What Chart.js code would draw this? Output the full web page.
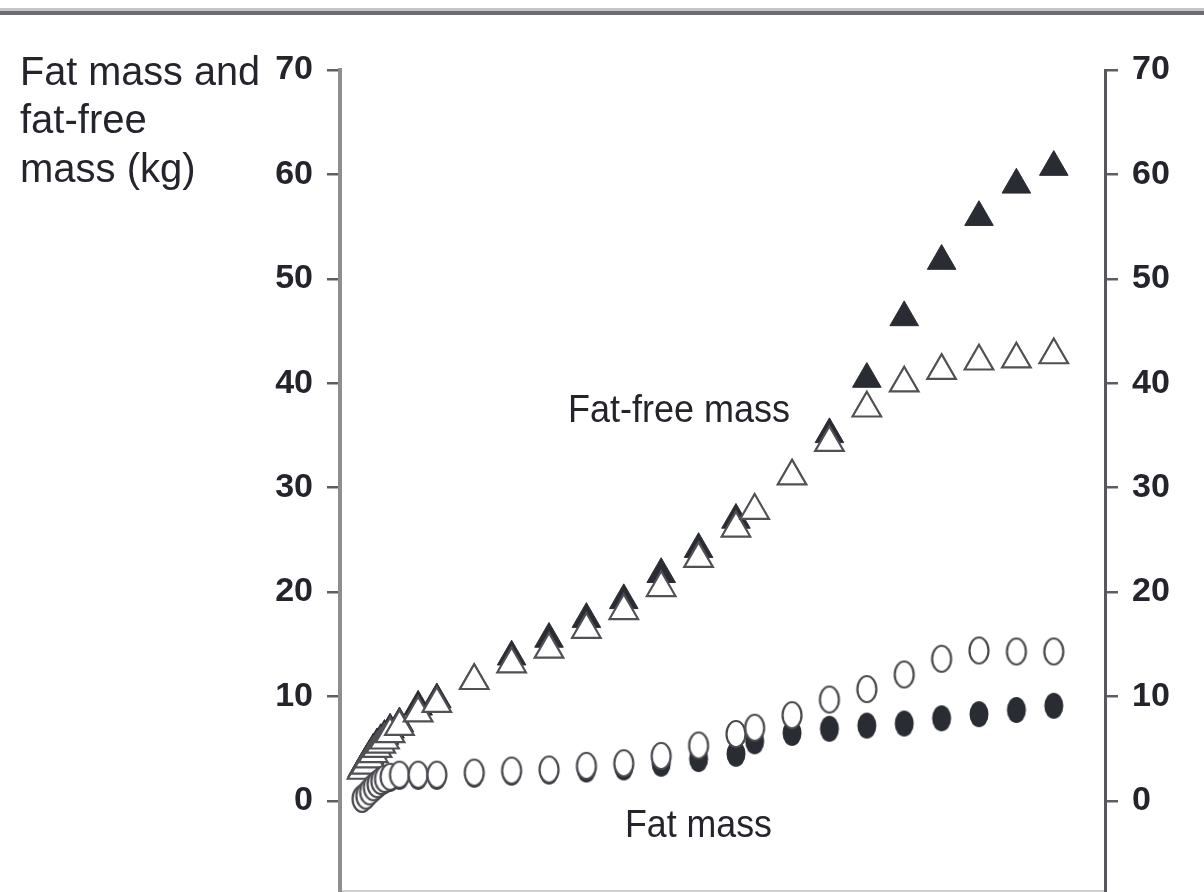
<!DOCTYPE html>
<html>
<head>
<meta charset="utf-8">
<script src="https://cdn.jsdelivr.net/npm/chart.js@4.4.0/dist/chart.umd.min.js"></script>
<style>
  html, body { margin: 0; padding: 0; background: #fff; overflow: hidden; }
  canvas { display: block; }
</style>
</head>
<body>
<canvas id="mycanvas" width="1204" height="910"></canvas>
<script>
// ages (years) of the measurement points
var ages = [0, 0.1, 0.2, 0.3, 0.4, 0.5, 0.6, 0.75, 1, 1.5, 2, 3, 4, 5, 6, 7, 8, 9, 10, 10.5, 11.5, 12.5, 13.5, 14.5, 15.5, 16.5, 17.5, 18.5];

// fat-free mass (kg)
var ffmBoys  = [3.1, 3.7, 4.3, 4.9, 5.4, 5.8, 6.2, 6.8, 7.4, 9.0, 9.7, 11.6, 13.8, 15.5, 17.4, 19.2, 21.7, 24.1, 26.9, 27.8, 31.1, 35.1, 40.4, 46.3, 51.7, 55.9, 59.0, 60.7];
var ffmGirls = [2.9, 3.4, 4.0, 4.5, 5.0, 5.4, 5.8, 6.4, 7.1, 8.4, 9.3, 11.5, 13.1, 14.5, 16.4, 18.2, 20.4, 23.2, 26.1, 27.8, 31.1, 34.3, 37.6, 40.0, 41.2, 42.1, 42.3, 42.7];

// fat mass (kg)
var fmBoys  = [0.1, 0.4, 0.8, 1.1, 1.4, 1.7, 1.9, 2.1, 2.3, 2.3, 2.3, 2.5, 2.7, 2.8, 3.0, 3.2, 3.55, 4.0, 4.5, 5.7, 6.5, 6.9, 7.2, 7.4, 7.9, 8.3, 8.7, 9.1];
var fmGirls = [0.2, 0.5, 0.9, 1.3, 1.6, 1.9, 2.1, 2.3, 2.5, 2.5, 2.5, 2.7, 2.9, 3.0, 3.35, 3.6, 4.3, 5.3, 6.4, 7.0, 8.2, 9.7, 10.7, 12.1, 13.6, 14.4, 14.3, 14.3];

var yTicks = [0, 10, 20, 30, 40, 50, 60, 70];
var axisTitle = ['Fat mass and', 'fat-free', 'mass (kg)'];

function pts(ys) {
    return ages.map(function (a, i) { return { x: a, y: ys[i] }; });
}

// ellipse markers
function ellipse(filled) {
    var c = document.createElement('canvas');
    c.width = 24; c.height = 32;
    var g = c.getContext('2d');
    g.beginPath();
    g.ellipse(12, 16, 9.5, 13, 0, 0, Math.PI * 2);
    if (filled) {
        g.fillStyle = '#2a2c33';
        g.fill();
    } else {
        g.fillStyle = '#fff';
        g.fill();
        g.lineWidth = 2.2;
        g.strokeStyle = '#4a4a50';
        g.stroke();
    }
    return c;
}
var openDot = ellipse(false);
var fullDot = ellipse(true);

var decor = {
    id: 'decor',
    beforeDraw: function (chart) {
        var ctx = chart.ctx;
        ctx.save();
        ctx.fillStyle = '#c6c6c6';
        ctx.fillRect(0, 8, 1204, 3);
        ctx.fillStyle = '#6c6c70';
        ctx.fillRect(0, 11, 1204, 4);
        ctx.restore();
    },
    afterDraw: function (chart) {
        var ctx = chart.ctx;
        ctx.save();
        ctx.fillStyle = '#24242c';
        ctx.textAlign = 'left';
        ctx.textBaseline = 'alphabetic';
        ctx.font = '40px "Liberation Sans", Arial, sans-serif';
        var base = [85, 133, 182];
        for (var i = 0; i < axisTitle.length; i++) {
            ctx.fillText(axisTitle[i], 20, base[i], 240);
        }
        ctx.font = '38px "Liberation Sans", Arial, sans-serif';
        ctx.fillText('Fat-free mass', 568, 422, 222);
        ctx.fillText('Fat mass', 625, 837, 147);
        ctx.restore();
    }
};

var yCommon = {
    type: 'linear',
    min: -8.67,
    max: 70,
    afterBuildTicks: function (scale) {
        scale.ticks = yTicks.map(function (v) { return { value: v }; });
    },
    grid: {
        drawOnChartArea: false,
        drawTicks: true,
        tickLength: 13,
        color: '#5e5e62',
        lineWidth: 2.5
    },
    ticks: {
        padding: 14,
        color: '#24242c',
        font: { family: '"Liberation Sans", Arial, sans-serif', size: 34, weight: 'bold' }
    }
};

var ctx = document.getElementById('mycanvas');
var chart = new Chart(ctx, {
    type: 'scatter',
    data: {
        datasets: [
            {
                label: 'Fat mass girls',
                data: pts(fmGirls),
                pointStyle: openDot,
                pointRadius: 10,
                order: 1
            },
            {
                label: 'Fat mass boys',
                data: pts(fmBoys),
                pointStyle: fullDot,
                pointRadius: 10,
                order: 2
            },
            {
                label: 'Fat-free mass girls',
                data: pts(ffmGirls),
                pointStyle: 'triangle',
                pointRadius: 16.5,
                backgroundColor: '#ffffff',
                borderColor: '#505055',
                borderWidth: 2.2,
                order: 3
            },
            {
                label: 'Fat-free mass boys',
                data: pts(ffmBoys),
                pointStyle: 'triangle',
                pointRadius: 16.5,
                backgroundColor: '#2a2c33',
                borderColor: '#2a2c33',
                borderWidth: 1,
                order: 4
            }
        ]
    },
    options: {
        responsive: false,
        animation: false,
        devicePixelRatio: 1,
        layout: { padding: { top: 70, left: 0, right: 0, bottom: 0 } },
        plugins: { legend: { display: false }, tooltip: { enabled: false } },
        scales: {
            x: {
                type: 'linear',
                min: -0.59,
                max: 19.87,
                afterFit: function (scale) { scale.height = 1; },
                grid: { display: false },
                ticks: { display: false },
                border: { display: true, color: '#cfcfcf', width: 3 }
            },
            y: Object.assign({}, yCommon, {
                position: 'left',
                afterFit: function (scale) {
                    scale.width = 340;
                    scale.paddingTop = 0;
                    scale.paddingBottom = 0;
                },
                border: { display: true, color: '#8e8e90', width: 4 }
            }),
            y2: Object.assign({}, yCommon, {
                position: 'right',
                afterFit: function (scale) {
                    scale.width = 99;
                    scale.paddingTop = 0;
                    scale.paddingBottom = 0;
                },
                border: { display: true, color: '#58585c', width: 3 }
            })
        }
    },
    plugins: [decor]
});
</script>
</body>
</html>
